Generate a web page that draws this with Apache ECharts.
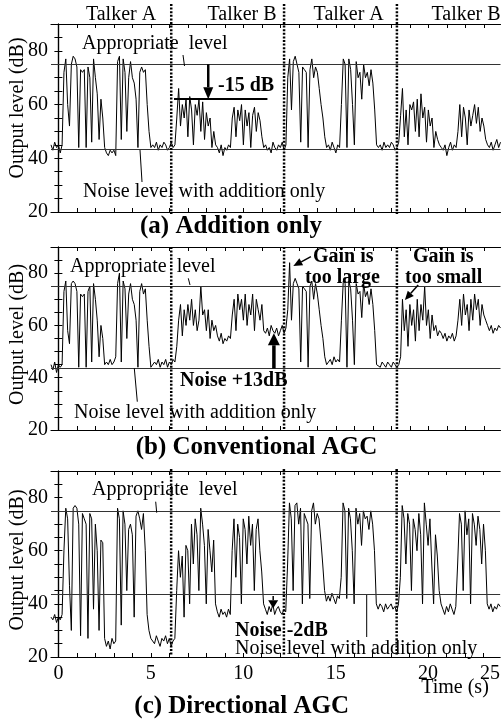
<!DOCTYPE html>
<html>
<head>
<meta charset="utf-8">
<script src="https://cdn.jsdelivr.net/npm/echarts@6.0.0/dist/echarts.min.js"></script>
<style>
    html, body { margin: 0; padding: 0; background: #fff; }
    #es_chart { width: 503px; height: 722px; }
</style>
</head>
<body>
<div id="es_chart"></div>
<script>
// traces are sampled every 0.1 s starting at -0.4 s
const timeStart = -0.4;
const timeStep = 0.1;

// (a) Addition only, output level (dB)
const levelAddition = [
    45, 43, 46, 44, 45, 42, 45,
    72, 77, 60, 52, 75, 78, 77, 74, 44, 73, 72, 73, 44, 74, 70, 46, 77, 70, 64, 47, 62, 55, 44,
    42, 41, 43, 42, 43, 41,
    76, 78, 47, 77, 72, 50, 70, 76, 70, 68, 62, 44, 72, 74, 72, 73, 60, 50, 44,
    45, 44, 46, 43, 45, 44, 46, 45, 43, 44, 46, 44, 45,
    55, 66, 52, 60, 55, 62, 48, 63, 58, 45, 60, 56, 62, 50, 61, 47, 57, 52, 55, 44, 50, 45,
    44, 42, 45, 41, 44, 43, 45, 44,
    55, 59, 48, 58, 54, 60, 45, 58, 52, 57, 44, 56, 59, 50, 57, 54, 48, 44,
    45, 43, 44, 42, 46, 44, 43, 45, 44, 46, 43, 45,
    70, 77, 58, 76, 78, 75, 72, 46, 74, 73, 72, 44, 73, 77, 70, 74, 72, 66, 60, 55, 48, 44,
    45, 43, 46, 44, 42, 45, 44,
    60, 77, 75, 44, 77, 73, 60, 45, 76, 70, 72, 62, 75, 70, 72, 67, 73, 68, 58, 45,
    44, 45, 43, 46, 44, 45, 44, 46, 45, 43, 44, 46,
    56, 66, 48, 58, 45, 60, 58, 61, 50, 62, 48, 64, 55, 59, 46, 58, 52, 55, 44, 50, 47, 45, 44,
    43, 45, 41, 44, 46, 43, 45, 44,
    50, 60, 48, 59, 55, 45, 58, 52, 56, 60, 53, 59, 50, 55, 52, 47, 45,
    44, 46, 43, 45, 47, 44, 46
];

// (b) Conventional AGC
const levelConventional = [
    45, 43, 46, 42, 45, 44, 45,
    73, 77, 58, 53, 76, 77, 76, 73, 44, 72, 71, 72, 44, 73, 75, 46, 76, 70, 62, 48, 60, 55, 45,
    46, 45, 47, 45, 46, 48,
    76, 80, 46, 77, 74, 55, 72, 76, 70, 68, 62, 44, 73, 76, 72, 74, 62, 52, 44,
    44, 46, 45, 47, 44, 46, 45, 47, 44, 46, 45, 47, 46,
    52, 62, 68, 56, 66, 60, 68, 62, 70, 60, 66, 58, 62, 75, 64, 66, 58, 66, 55, 62, 58, 60,
    56, 54, 57, 53, 55, 54, 56, 55,
    64, 70, 58, 72, 66, 70, 62, 72, 60, 68, 64, 72, 58, 70, 66, 62, 68, 58,
    57, 59, 56, 60, 58, 57, 59, 56, 58, 60, 57, 59,
    66, 84, 62, 76, 78, 76, 74, 46, 75, 74, 73, 44, 75, 77, 70, 76, 72, 66, 60, 55, 48, 45,
    46, 47, 45, 48, 46, 47, 46,
    62, 77, 76, 44, 77, 74, 62, 45, 76, 72, 73, 63, 76, 71, 73, 68, 74, 68, 58, 45,
    45, 44, 46, 45, 44, 46, 45, 44, 46, 45, 44, 45,
    48, 70, 58, 66, 52, 68, 60, 66, 54, 70, 58, 68, 62, 75, 60, 66, 55, 64, 58, 60, 56, 58, 57,
    55, 57, 54, 56, 55, 57, 54, 56,
    62, 70, 60, 72, 64, 68, 58, 70, 62, 72, 66, 70, 60, 68, 64, 62, 60,
    58, 60, 57, 59, 58, 60, 59
];

// (c) Directional AGC
const levelDirectional = [
    35, 34, 36, 33, 35, 34, 36,
    60, 76, 72, 47, 30, 76, 77, 76, 70, 28, 74, 72, 70, 27, 74, 72, 38, 70, 60, 30, 64, 63, 27,
    24, 26, 23, 27, 25, 26,
    76, 72, 32, 75, 70, 45, 68, 70, 66, 35, 73, 75, 72, 68, 74, 60, 36, 30, 27,
    27, 25, 28, 26, 24, 27, 26, 28, 25, 27, 24, 26, 27,
    45, 60, 50, 58, 35, 62, 60, 40, 70, 55, 72, 66, 45, 76, 70, 62, 40, 68, 60, 52, 64, 40,
    37, 35, 38, 36, 37, 35, 38, 36,
    60, 72, 50, 70, 65, 40, 72, 68, 55, 73, 62, 70, 45, 68, 72, 60, 52, 40,
    38, 36, 39, 37, 40, 36, 38, 39, 37, 36, 38, 37,
    55, 78, 72, 45, 77, 78, 70, 76, 40, 74, 72, 70, 42, 75, 78, 70, 74, 72, 64, 55, 45, 41,
    43, 41, 44, 42, 40, 43, 42,
    50, 78, 75, 42, 76, 72, 60, 40, 76, 70, 74, 62, 75, 72, 73, 68, 75, 70, 60, 40,
    38, 40, 39, 37, 40, 38, 39, 40, 38, 39, 37, 40,
    50, 77, 72, 55, 74, 70, 45, 72, 68, 60, 74, 66, 40, 78, 70, 62, 72, 55, 40, 66, 58, 45, 40,
    38, 36, 39, 37, 40, 38, 36, 39,
    55, 74, 70, 45, 75, 66, 72, 40, 74, 70, 62, 73, 68, 55, 70, 60, 40,
    38, 40, 37, 39, 38, 40, 39
];

const talkerNames = ['Talker A', 'Talker B', 'Talker A', 'Talker B'];
const talkerChanges = [6.1, 12.2, 18.3];
const appropriateLevel = 75;
const noiseLevelAddition = 43.5;
const talkerBLevel = 62;            // the -15 dB line in (a)
const talkerBLevelSpan = [6.25, 11.3];
const yTickLabels = [20, 40, 60, 80];
const xTickLabelValues = [0, 5, 10, 15, 20, 23.35];
const xTickLabels = ['0', '5', '10', '15', '20', '25'];
const panelTitles = ['(a) Addition only', '(b) Conventional AGC', '(c) Directional AGC'];

const FONT = 'Liberation Serif';
const grids = [
    {left: 51, top: 24, width: 449.5, height: 188},
    {left: 51, top: 247, width: 449.5, height: 183},
    {left: 51, top: 471, width: 449.5, height: 186}
];
const xMin = -0.4, xMax = 23.9;

let secondTicks = [];
for (let s = 0; s <= 23; s++) secondTicks.push(s);

function toSeries(values) {
    return values.map(function (v, i) {
        return [+(timeStart + i * timeStep).toFixed(1), v];
    });
}

let xAxes = [], yAxes = [], series = [];
grids.forEach(function (g, i) {
    let axisLine = {show: true, lineStyle: {color: '#000', width: 1.2}};
    xAxes.push({
        type: 'value', gridIndex: i, position: 'bottom', min: xMin, max: xMax,
        axisLine: axisLine, splitLine: {show: false},
        axisTick: {show: true, inside: true, length: 4, customValues: secondTicks, lineStyle: {color: '#000'}},
        axisLabel: {
            show: i === 2, customValues: xTickLabelValues, margin: 7,
            fontFamily: FONT, fontSize: 20, color: '#000',
            formatter: function (v) {
                let k = xTickLabelValues.indexOf(v);
                return k < 0 ? '' : xTickLabels[k];
            }
        }
    });
    xAxes.push({
        type: 'value', gridIndex: i, position: 'top', min: xMin, max: xMax,
        axisLine: axisLine, splitLine: {show: false},
        axisTick: {show: true, inside: true, length: 4, customValues: secondTicks, lineStyle: {color: '#000'}},
        axisLabel: {show: false}
    });
    yAxes.push({
        type: 'value', gridIndex: i, position: 'left', min: 20, max: 90, interval: 5,
        axisLine: axisLine, splitLine: {show: false},
        axisTick: {show: true, inside: true, length: 4, lineStyle: {color: '#000'}},
        axisLabel: {
            margin: 3, fontFamily: FONT, fontSize: 20, color: '#000',
            formatter: function (v) {
                return yTickLabels.indexOf(v) >= 0 ? String(v) : '';
            }
        }
    });
    yAxes.push({
        type: 'value', gridIndex: i, position: 'right', min: 20, max: 90, interval: 5,
        axisLine: axisLine, splitLine: {show: false},
        axisTick: {show: true, inside: true, length: 4, lineStyle: {color: '#000'}},
        axisLabel: {show: false}
    });
});

let traces = [levelAddition, levelConventional, levelDirectional];
traces.forEach(function (values, i) {
    let lines = [{yAxis: appropriateLevel}, {yAxis: noiseLevelAddition}];
    if (i === 0) {
        lines.push([
            {coord: [talkerBLevelSpan[0], talkerBLevel], lineStyle: {width: 2, color: '#000'}},
            {coord: [talkerBLevelSpan[1], talkerBLevel]}
        ]);
    }
    series.push({
        type: 'line', xAxisIndex: i * 2, yAxisIndex: i * 2,
        data: toSeries(values), showSymbol: false, symbol: 'none',
        lineStyle: {color: '#000', width: 1},
        markLine: {
            silent: true, symbol: ['none', 'none'], label: {show: false},
            lineStyle: {color: '#333', width: 1, type: 'solid'},
            data: lines
        }
    });
});

let option = {
    animation: false,
    backgroundColor: '#fff',
    grid: grids,
    xAxis: xAxes,
    yAxis: yAxes,
    series: series
};

let chart = echarts.init(document.getElementById('es_chart'));
chart.setOption(option);

function px(gridIndex, t, v) {
    return chart.convertToPixel({gridIndex: gridIndex}, [t, v]);
}

function text(str, x, y, size, bold, align) {
    return {
        type: 'text', x: x, y: y, z: 10,
        style: {
            text: str, fontFamily: FONT, fontSize: size, fontWeight: bold ? 'bold' : 'normal',
            fill: '#000', align: align || 'left', textAlign: align || 'left',
            verticalAlign: 'middle', textVerticalAlign: 'middle'
        }
    };
}

function seg(x1, y1, x2, y2, w, dash) {
    return {
        type: 'line', z: 10,
        shape: {x1: x1, y1: y1, x2: x2, y2: y2},
        style: {stroke: '#000', lineWidth: w || 1, lineDash: dash || null}
    };
}

function arrow(p0, p1, shaft, headLen, headW) {
    let dx = p1[0] - p0[0], dy = p1[1] - p0[1];
    let len = Math.sqrt(dx * dx + dy * dy);
    let ux = dx / len, uy = dy / len;
    let bx = p1[0] - ux * headLen, by = p1[1] - uy * headLen;
    return [
        seg(p0[0], p0[1], bx, by, shaft),
        {
            type: 'polygon', z: 10,
            shape: {points: [[p1[0], p1[1]], [bx - uy * headW / 2, by + ux * headW / 2], [bx + uy * headW / 2, by - ux * headW / 2]]},
            style: {fill: '#000'}
        }
    ];
}

let g = [];

// talker change markers
let dottedSpan = [[4, 214], [247, 430], [469, 655]];
grids.forEach(function (gr, i) {
    talkerChanges.forEach(function (t) {
        let x = px(i, t, 50)[0];
        g.push(seg(x, dottedSpan[i][0], x, dottedSpan[i][1], 2.5, [2, 1.6]));
    });
    let mid = gr.top + gr.height / 2 - (i === 0 ? 10 : 4);
    let yl = text('Output level (dB)', 18, mid, 20, false, 'center');
    yl.rotation = Math.PI / 2;
    g.push(yl);
});

[121, 242, 348.7, 466].forEach(function (x, k) {
    g.push(text(talkerNames[k], x, 15, 20, false, 'center'));
});

// (a)
g.push(text('Appropriate  level', 82, 44, 20));
g.push(seg(183, 55, 184.5, 66, 1));
g.push(text('-15 dB', 218, 86, 20, true));
g = g.concat(arrow(px(0, 8.1, appropriateLevel), px(0, 8.1, talkerBLevel), 2.5, 12, 10));
g.push(text('Noise level with addition only', 83, 192, 20));
g.push(seg(140, 150, 142, 182, 1));
g.push(text(panelTitles[0], 231, 227, 25, true, 'center'));

// (b)
g.push(text('Appropriate  level', 70, 267, 20));
g.push(seg(188.3, 278.3, 190, 285, 1));
g.push(text('Gain is', 313, 257, 20, true));
g.push(text('too large', 305, 278, 20, true));
g = g.concat(arrow(px(1, 13.65, 86.3), px(1, 12.7, 82.7), 1.5, 9, 8));
g.push(text('Gain is', 413, 257, 20, true));
g.push(text('too small', 405, 278, 20, true));
g = g.concat(arrow(px(1, 19.45, 75.5), px(1, 18.73, 69.7), 1.5, 9, 8));
g.push(text('Noise +13dB', 180, 381, 20, true));
g = g.concat(arrow(px(1, 11.65, noiseLevelAddition), px(1, 11.65, 57), 3.5, 12, 12));
g.push(text('Noise level with addition only', 74, 413, 20));
g.push(seg(134.3, 368.3, 137.3, 401.7, 1));
g.push(text(panelTitles[1], 256.5, 448, 25, true, 'center'));

// (c)
g.push(text('Appropriate  level', 92, 490, 20));
g.push(seg(155.7, 501.7, 156.7, 512.7, 1));
g.push(text('Noise -2dB', 235, 631, 20, true));
g = g.concat(arrow(px(2, 11.62, 43), px(2, 11.62, 38.3), 1.5, 8, 10));
g.push(text('Noise level with addition only', 235, 649, 20));
g.push(seg(366.7, 595, 366.7, 637, 1));
g.push(text('Time (s)', 455, 688, 20, false, 'center'));
g.push(text(panelTitles[2], 241.7, 707, 25, true, 'center'));

chart.setOption({graphic: {elements: g}});
</script>
</body>
</html>
